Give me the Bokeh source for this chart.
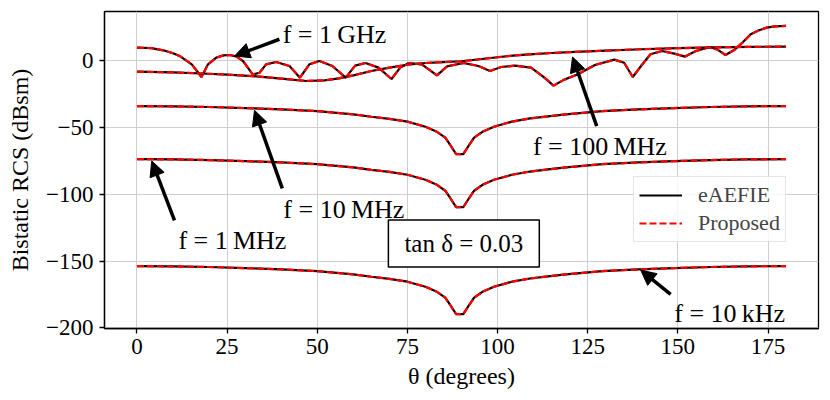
from bokeh.plotting import figure
from bokeh.models import (Range1d, FixedTicker, Arrow, NormalHead, Label,
                          Legend, LegendItem)
from bokeh.embed import file_html
from bokeh.resources import INLINE

# ---------------- data ----------------
theta_lf = [0, 10, 20, 30, 40, 50, 60, 65, 70, 75, 80, 83, 85.5, 87, 88.5,
            90.5, 92, 93.5, 96, 99, 104, 109, 114, 119, 129, 139, 149, 159,
            169, 180]
rcs_10mhz = [-33.8, -34.0, -34.5, -35.3, -36.3, -37.6, -40.0, -41.8, -43.4,
             -45.5, -49.3, -52.8, -57.5, -63.5, -69.8, -69.8, -63.5, -57.5,
             -52.8, -49.3, -45.5, -43.1, -41.5, -40.0, -37.6, -36.3, -35.3,
             -34.5, -34.0, -33.8]
rcs_1mhz = [-73.6, -73.8, -74.3, -75.1, -76.1, -77.4, -79.8, -81.6, -83.2,
            -85.3, -89.1, -92.6, -97.3, -103.3, -109.6, -109.6, -103.3, -97.3,
            -92.6, -89.1, -85.3, -82.9, -81.3, -79.8, -77.4, -76.1, -75.1,
            -74.3, -73.8, -73.6]
rcs_10khz = [-153.8, -154.0, -154.5, -155.3, -156.3, -157.6, -160.0, -161.8,
             -163.4, -165.5, -169.3, -172.8, -177.5, -183.5, -189.8, -189.8,
             -183.5, -177.5, -172.8, -169.3, -165.5, -163.1, -161.5, -160.0,
             -157.6, -156.3, -155.3, -154.5, -154.0, -153.8]

theta_100mhz = [0, 10, 18, 25, 32, 40, 47, 52, 56, 60, 65, 70, 75, 80, 85, 90,
                95, 100, 105, 110, 115, 120, 125, 130, 140, 150, 160, 170, 180]
rcs_100mhz = [-8.0, -8.6, -9.4, -10.2, -11.3, -13.2, -15.0, -14.5, -13.0,
              -10.8, -7.5, -5.0, -2.8, -1.5, -0.8, -0.2, 1.3, 2.8, 4.2, 5.2,
              6.0, 6.6, 7.2, 7.8, 8.8, 9.6, 10.2, 10.6, 10.8]

theta_1ghz = [0, 4, 7.3, 10, 12, 15.2, 17.9, 19.7, 22, 24, 25.7, 27.5, 29.4,
              32.1, 34, 35.8, 38.6, 42.3, 45.2, 47.8, 50.6, 54.2, 57.9, 60.5,
              63.4, 67, 70.6, 73, 75.4, 79, 83.2, 86, 90.6, 94.7, 97.9, 101,
              104.8, 109.3, 113, 115.5, 118.5, 122.3, 127, 132.4, 135.1, 137.5,
              140, 142.4, 145.6, 149, 152, 155, 159, 161, 163.2, 165.5, 168,
              170.2, 172.5, 174.6, 177, 180]
rcs_1ghz = [10.0, 9.6, 8.0, 5.8, 3.5, -2.5, -12.0, -2.5, 2.5, 4.2, 4.5, 3.5,
            0.0, -10.0, -8.8, -2.5, -0.75, -3.75, -12.5, -2.5, 0.0, -3.75,
            -12.5, -3.5, -1.5, -5.0, -13.5, -5.0, -1.5, -2.5, -10.8, -4.0,
            -1.5, -3.75, -7.5, -4.5, -3.5, -5.0, -12.5, -18.5, -14.0, -10.0,
            -3.0, 1.0, -1.3, -12.0, -3.0, 5.0, 7.5, 5.5, 3.3, 7.5, 10.5, 8.5,
            4.5, 8.0, 14.0, 20.0, 23.0, 25.0, 26.0, 26.3]

x_ticks = [0, 25, 50, 75, 100, 125, 150, 175]
y_ticks = [-200, -150, -100, -50, 0]
y_tick_labels = ["\u2212200", "\u2212150", "\u2212100", "\u221250", "0"]

series_names = ["eAEFIE", "Proposed"]
annot_texts = ["f = 1\u2009GHz", "f = 100\u2009MHz", "f = 10\u2009MHz",
               "f = 1\u2009MHz", "f = 10\u2009kHz"]
box_text = "tan \u03b4 = 0.03"

curves = [(theta_1ghz, rcs_1ghz), (theta_100mhz, rcs_100mhz),
          (theta_lf, rcs_10mhz), (theta_lf, rcs_1mhz), (theta_lf, rcs_10khz)]

FONT = "Liberation Serif"

p = figure(frame_width=714, frame_height=317,
           x_range=Range1d(-9, 189), y_range=Range1d(-200.6, 37.1),
           output_backend="svg", toolbar_location=None,
           min_border_left=104, min_border_right=4, min_border_top=11,
           min_border_bottom=64, background_fill_color="white",
           border_fill_color="white")

p.outline_line_color = "black"
p.outline_line_width = 1.3

p.xaxis.ticker = FixedTicker(ticks=x_ticks)
p.yaxis.ticker = FixedTicker(ticks=y_ticks)
p.yaxis.major_label_overrides = {t: l for t, l in zip(y_ticks, y_tick_labels)}

for ax in (p.xaxis, p.yaxis):
    ax.axis_line_width = 1.3
    ax.major_tick_line_width = 1.3
    ax.major_tick_out = 5
    ax.major_tick_in = 0
    ax.minor_tick_out = 0
    ax.minor_tick_in = 0
    ax.major_label_text_font = FONT
    ax.major_label_text_font_size = "23px"
    ax.major_label_text_color = "black"
    ax.axis_label_text_font = FONT
    ax.axis_label_text_font_size = "24px"
    ax.axis_label_text_font_style = "normal"
    ax.axis_label_text_color = "black"

p.xaxis.axis_label = "\u03b8 (degrees)"
p.yaxis.axis_label = "Bistatic RCS (dBsm)"
p.xaxis.major_label_standoff = 5
p.yaxis.major_label_standoff = 6
p.xaxis.axis_label_standoff = 6
p.yaxis.axis_label_standoff = 10

p.grid.grid_line_color = "#cfcfcf"
p.grid.grid_line_width = 1

black_r = []
red_r = []
for th, r in curves:
    black_r.append(p.line(th, r, line_color="black", line_width=2.2))
    red_r.append(p.line(th, r, line_color="red", line_width=2.2,
                        line_dash="7 3"))

# annotations: arrows (tail -> tip) and their labels
arrows = [(39.5, 16.3, 27.1, 3.75), (127.5, -48.8, 120.8, 3.0),
          (40.3, -95.5, 32.6, -37.0), (10.4, -119.5, 4.1, -75.0),
          (148.0, -175.0, 139.7, -156.8)]
label_pos = [(40.4, 20.0), (109.8, -64.5), (40.6, -111.5), (11.5, -134.5),
             (149.0, -189.0)]

for (xs, ys, xe, ye) in arrows:
    p.add_layout(Arrow(end=NormalHead(size=15, fill_color="black",
                                      line_color="black", line_width=1),
                       x_start=xs, y_start=ys, x_end=xe, y_end=ye,
                       line_width=3.5, line_color="black"))

for (lx, ly), txt in zip(label_pos, annot_texts):
    p.add_layout(Label(x=lx, y=ly, text=txt, text_font=FONT,
                       text_font_size="26px", text_color="black",
                       text_baseline="alphabetic", text_align="left"))

p.add_layout(Label(x=90.65, y=-136.8, text=box_text, text_font=FONT,
                   text_font_size="25px", text_color="black",
                   text_align="center", text_baseline="middle",
                   border_line_color="black", border_line_width=1.5,
                   background_fill_color="white", padding=(16, 10)))

legend = Legend(items=[LegendItem(label=series_names[0], renderers=[black_r[0]]),
                       LegendItem(label=series_names[1], renderers=[red_r[0]])],
                location=(529, 86))
legend.label_text_font = FONT
legend.label_text_font_size = "22px"
legend.glyph_width = 43
legend.glyph_height = 22
legend.label_height = 22
legend.label_standoff = 16
legend.spacing = 2
legend.padding = 5
legend.margin = 0
legend.border_line_color = "#cccccc"
legend.border_line_width = 1
legend.background_fill_alpha = 0.8
p.add_layout(legend)

open("out.html", "w").write(file_html(p, INLINE))
